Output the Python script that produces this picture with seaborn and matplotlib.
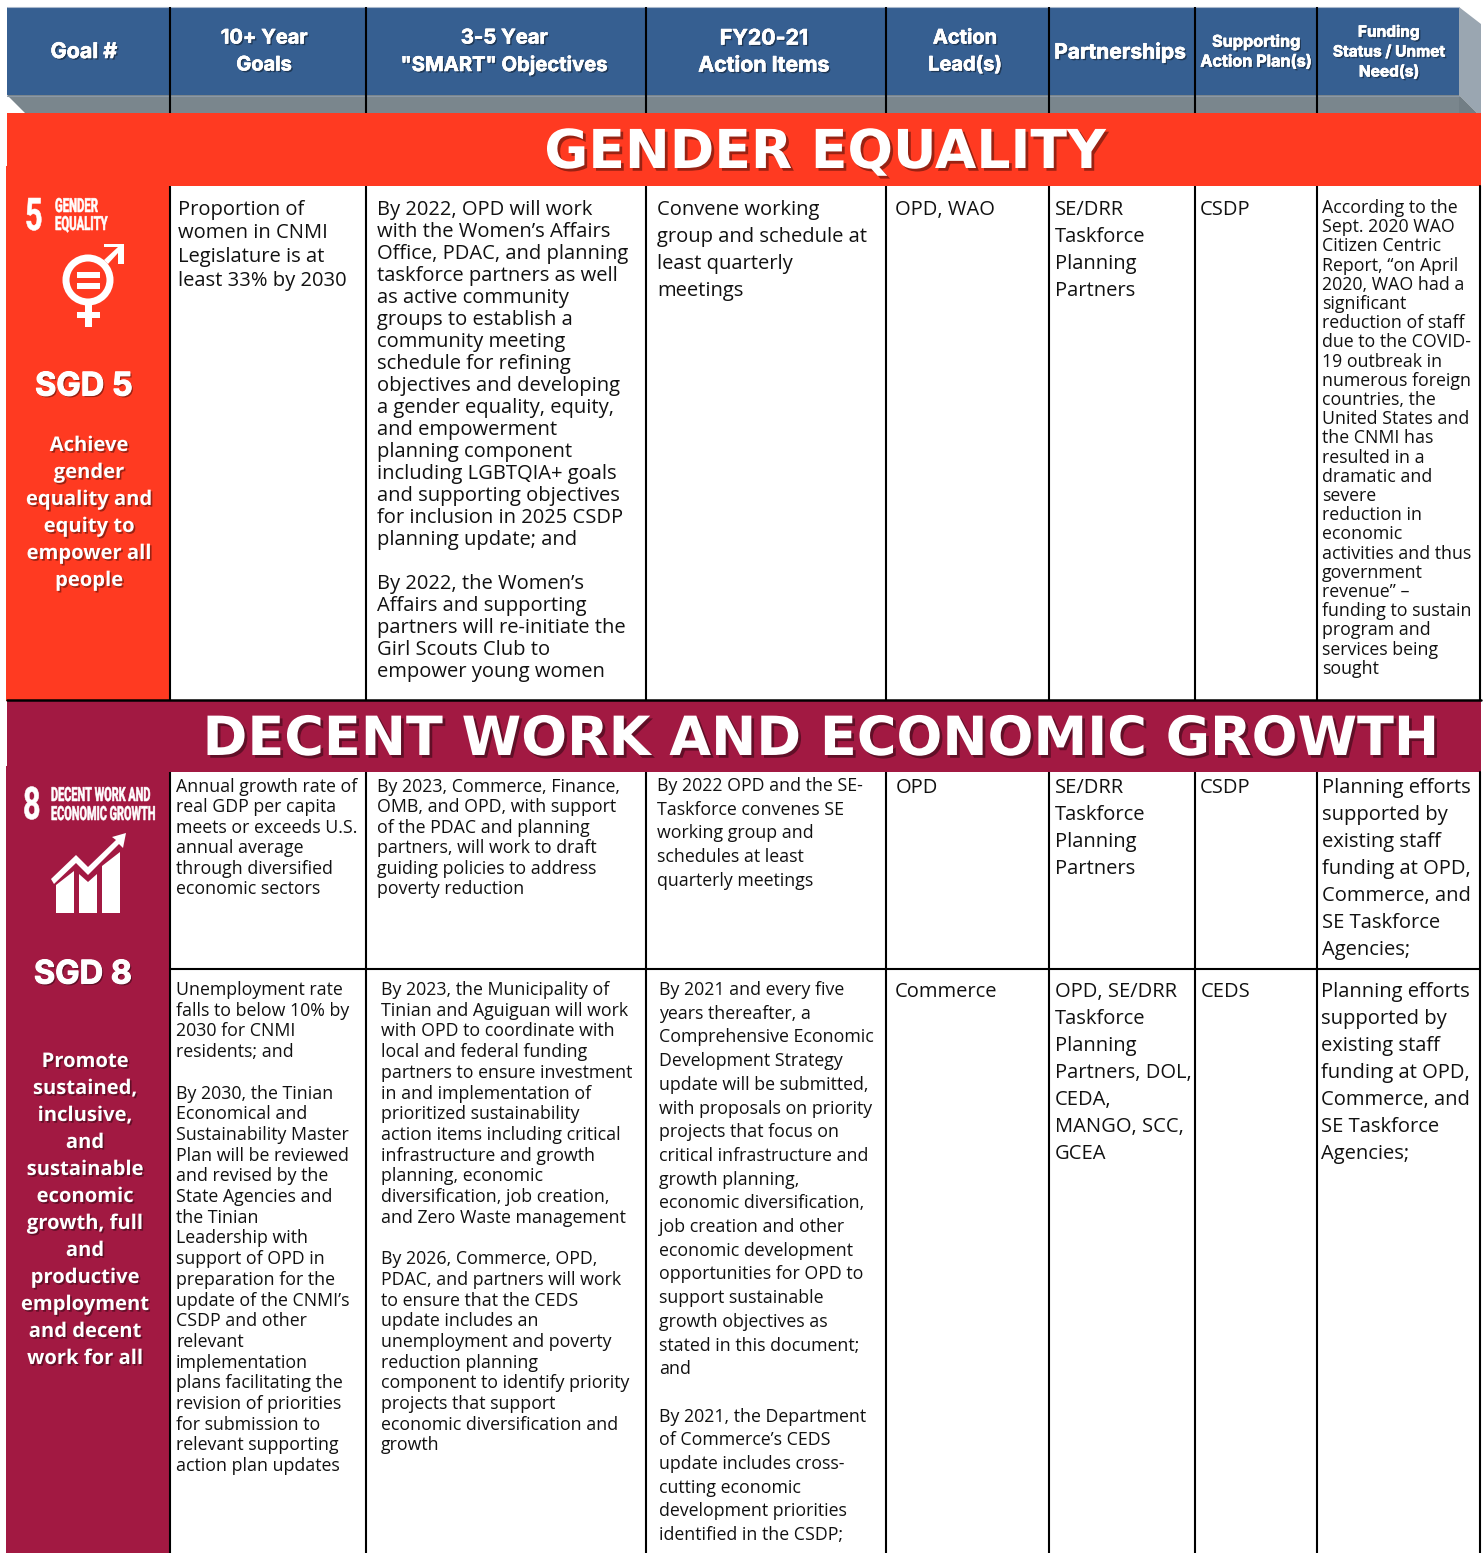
import matplotlib
matplotlib.use("Agg")
import matplotlib.pyplot as plt
import matplotlib.patheffects as pe
from matplotlib.patches import Rectangle, Polygon, Circle
from matplotlib.transforms import Affine2D
import seaborn as sns

sns.set_theme(style="white")
plt.rcParams["font.family"] = ["Open Sans", "DejaVu Sans"]

W, H = 1484, 1553
BLUE = "#365F91"
GREY = "#7A868D"
SIDE = "#9AA6B1"
RED = "#FF3A21"
MAROON = "#A21942"

# Table content
col_edges = [170, 366, 646, 886, 1049, 1195, 1317, 1479]
headers = [
    ["Goal #"], ["10+ Year", "Goals"], ["3-5 Year", '"SMART" Objectives'],
    ["FY20-21", "Action Items"], ["Action", "Lead(s)"], ["Partnerships"],
    ["Supporting", "Action Plan(s)"], ["Funding", "Status / Unmet", "Need(s)"],
]
header_x = [84, 264, 504, 764, 965, 1120, 1256, 1389]
header_px = [21.5, 20, 20.2, 21.3, 20, 21, 16.2, 15.5]
header_pitch = [27, 27, 27, 27, 27, 27, 20, 20]

gender_goal = ["Proportion of", "women in CNMI", "Legislature is at", "least 33% by 2030"]
gender_obj = [
    "By 2022, OPD will work", "with the Women’s Affairs", "Office, PDAC, and planning",
    "taskforce partners as well", "as active community", "groups to establish a",
    "community meeting", "schedule for refining", "objectives and developing",
    "a gender equality, equity,", "and empowerment", "planning component",
    "including LGBTQIA+ goals", "and supporting objectives", "for inclusion in 2025 CSDP",
    "planning update; and", "", "By 2022, the Women’s", "Affairs and supporting",
    "partners will re-initiate the", "Girl Scouts Club to", "empower young women",
]
gender_items = ["Convene working", "group and schedule at", "least quarterly", "meetings"]
gender_lead = ["OPD, WAO"]
gender_partners = ["SE/DRR", "Taskforce", "Planning", "Partners"]
gender_plan = ["CSDP"]
gender_funding = [
    "According to the", "Sept. 2020 WAO", "Citizen Centric", "Report, “on April",
    "2020, WAO had a", "significant", "reduction of staff", "due to the COVID-",
    "19 outbreak in", "numerous foreign", "countries, the", "United States and",
    "the CNMI has", "resulted in a", "dramatic and", "severe", "reduction in",
    "economic", "activities and thus", "government", "revenue” –",
    "funding to sustain", "program and", "services being", "sought",
]

work1_goal = ["Annual growth rate of", "real GDP per capita", "meets or exceeds U.S.",
              "annual average", "through diversified", "economic sectors"]
work1_obj = ["By 2023, Commerce, Finance,", "OMB, and OPD, with support", "of the PDAC and planning",
             "partners, will work to draft", "guiding policies to address", "poverty reduction"]
work1_items = ["By 2022 OPD and the SE-", "Taskforce convenes SE", "working group and",
               "schedules at least", "quarterly meetings"]
work1_lead = ["OPD"]
work1_partners = ["SE/DRR", "Taskforce", "Planning", "Partners"]
work1_plan = ["CSDP"]
funding_text = ["Planning efforts", "supported by", "existing staff", "funding at OPD,",
                "Commerce, and", "SE Taskforce", "Agencies;"]

work2_goal = [
    "Unemployment rate", "falls to below 10% by", "2030 for CNMI", "residents; and", "",
    "By 2030, the Tinian", "Economical and", "Sustainability Master", "Plan will be reviewed",
    "and revised by the", "State Agencies and", "the Tinian", "Leadership with",
    "support of OPD in", "preparation for the", "update of the CNMI’s", "CSDP and other",
    "relevant", "implementation", "plans facilitating the", "revision of priorities",
    "for submission to", "relevant supporting", "action plan updates",
]
work2_obj = [
    "By 2023, the Municipality of", "Tinian and Aguiguan will work", "with OPD to coordinate with",
    "local and federal funding", "partners to ensure investment", "in and implementation of",
    "prioritized sustainability", "action items including critical", "infrastructure and growth",
    "planning, economic", "diversification, job creation,", "and Zero Waste management", "",
    "By 2026, Commerce, OPD,", "PDAC, and partners will work", "to ensure that the CEDS",
    "update includes an", "unemployment and poverty", "reduction planning",
    "component to identify priority", "projects that support", "economic diversification and", "growth",
]
work2_items = [
    "By 2021 and every five", "years thereafter, a", "Comprehensive Economic",
    "Development Strategy", "update will be submitted,", "with proposals on priority",
    "projects that focus on", "critical infrastructure and", "growth planning,",
    "economic diversification,", "job creation and other", "economic development",
    "opportunities for OPD to", "support sustainable", "growth objectives as",
    "stated in this document;", "and", "", "By 2021, the Department", "of Commerce’s CEDS",
    "update includes cross-", "cutting economic", "development priorities", "identified in the CSDP;",
]
work2_lead = ["Commerce"]
work2_partners = ["OPD, SE/DRR", "Taskforce", "Planning", "Partners, DOL,", "CEDA,", "MANGO, SCC,", "GCEA"]
work2_plan = ["CEDS"]

sdg5_text = ["Achieve", "gender", "equality and", "equity to", "empower all", "people"]
sdg8_text = ["Promote", "sustained,", "inclusive,", "and", "sustainable", "economic", "growth, full",
             "and", "productive", "employment", "and decent", "work for all"]

fig = plt.figure(figsize=(W / 100, H / 100), dpi=100)
ax = fig.add_axes([0, 0, 1, 1])
ax.set_xlim(0, W)
ax.set_ylim(H, 0)
ax.axis("off")


# no condensed font installed, so stretch the letters upward from the baseline
class Tall(pe.AbstractPathEffect):
    def __init__(self, sy, y0):
        super().__init__()
        self.sy = sy
        self.y0 = y0

    def draw_path(self, renderer, gc, tpath, affine, rgbFace=None):
        stretch = Affine2D().translate(0, -self.y0).scale(1, self.sy).translate(0, self.y0)
        gc0 = renderer.new_gc()
        gc0.copy_properties(gc)
        gc0.set_linewidth(0.4)
        gc0.set_foreground("white")
        renderer.draw_path(gc0, tpath, affine + stretch, rgbFace)
        gc0.restore()


def px(size):
    return size * 0.72


def shadow(off=1.2, stroke=0.0):
    effects = [pe.withSimplePatchShadow(offset=(off, -off), shadow_rgbFace="#000000", alpha=0.4)]
    if stroke:
        effects.append(pe.Stroke(linewidth=stroke, foreground="white"))
        effects.append(pe.Normal())
    return effects


def block(lines, x, y, size, pitch):
    # y is the vertical middle of the first line
    for i, line in enumerate(lines):
        ax.text(x, y + i * pitch + size * 0.27 + 1.3, line, fontsize=px(size), color="#111111",
                ha="left", va="baseline")


def white_lines(lines, x, y, size, pitch, family="Open Sans", stroke=0.0):
    for i, line in enumerate(lines):
        ax.text(x, y + i * pitch + 2, line, fontsize=px(size), color="white", weight="bold",
                family=family, ha="center", va="center", path_effects=shadow(stroke=stroke))


def narrow_label(text, x, y, size, sy):
    ax.text(x, y, text, fontsize=px(size), color="white", weight="bold", family="Roboto",
            ha="left", va="baseline", path_effects=[Tall(sy, H - y)])


# Header strip
ax.add_patch(Rectangle((7, 95), 1452, 18, color=GREY, lw=0))
ax.add_patch(Polygon([(7, 95), (25, 113), (7, 113)], color="white", lw=0))
ax.add_patch(Polygon([(1459, 7), (1481, 24), (1481, 113), (1477, 113), (1459, 95)], color=SIDE, lw=0))
ax.add_patch(Polygon([(1459, 95), (1477, 113), (1459, 113)], color="#727E85", lw=0))
ax.add_patch(Rectangle((7, 7), 1452, 88, color=BLUE, lw=0))
ax.plot([7, 1459], [6.5, 6.5], color="#A9B8CC", lw=0.8)
ax.plot([7, 1459], [95.5, 95.5], color="#8B98A6", lw=0.8)

# Colour bands and goal columns
ax.add_patch(Rectangle((7, 113), 1474, 73, color=RED, lw=0))
ax.add_patch(Rectangle((6, 166), 164, 535, color=RED, lw=0))
ax.add_patch(Rectangle((7, 701), 1474, 71, color=MAROON, lw=0))
ax.add_patch(Rectangle((6, 766), 164, H - 766, color=MAROON, lw=0))

# Grid lines
for x in col_edges[:-1]:
    ax.plot([x, x], [7, 113], color="black", lw=1.5, solid_capstyle="butt")
    ax.plot([x, x], [186, 700], color="black", lw=1.5, solid_capstyle="butt")
    ax.plot([x, x], [772, H], color="black", lw=1.5, solid_capstyle="butt")
ax.plot([1479.5, 1479.5], [186, 700], color="black", lw=1.5)
ax.plot([1479.5, 1479.5], [772, H], color="black", lw=1.5)
ax.plot([7, 1481], [700, 700], color="black", lw=1.8)
ax.plot([170, 1479], [969, 969], color="black", lw=1.5)

# Header text
for names, x, size, pitch in zip(headers, header_x, header_px, header_pitch):
    y0 = 50 - (len(names) - 1) * pitch / 2
    white_lines(names, x, y0, size, pitch, family="Inter", stroke=0.4)

# Band titles
title_fx = shadow(off=2.0)
ax.text(825, 168, "GENDER EQUALITY", fontsize=px(53.6), color="white", weight="bold", family="DejaVu Sans",
        ha="center", va="baseline", path_effects=title_fx)
ax.text(821.5, 755, "DECENT WORK AND ECONOMIC GROWTH", fontsize=px(54), color="white", weight="bold",
        family="DejaVu Sans", ha="center", va="baseline", path_effects=title_fx)

# SDG 5 badge
narrow_label("5", 25, 230, 30.6, 1.47)
narrow_label("GENDER", 55, 212, 11.3, 1.72)
narrow_label("EQUALITY", 55, 230, 11.3, 1.72)
ax.add_patch(Circle((88, 280), 22, fill=False, ec="white", lw=px(7)))
ax.add_patch(Rectangle((77, 272), 23, 6, color="white", lw=0))
ax.add_patch(Rectangle((77, 283), 23, 6, color="white", lw=0))
ax.add_patch(Rectangle((85, 303), 7, 24, color="white", lw=0))
ax.add_patch(Rectangle((77, 312), 23, 6, color="white", lw=0))
ax.add_patch(Polygon([(104, 260), (118, 247), (104, 247), (104, 244), (124, 244), (124, 264),
                      (118, 264), (118, 253), (108, 264)], color="white", lw=0))
white_lines(["SGD 5"], 84, 385, 32.5, 0, family="Inter", stroke=0.8)
white_lines(sdg5_text, 89, 444, 20.2, 27)

# SDG 8 badge
narrow_label("8", 23, 819, 30.6, 1.47)
narrow_label("DECENT WORK AND", 51, 801, 10.9, 1.79)
narrow_label("ECONOMIC GROWTH", 51, 820, 10.9, 1.79)
ax.add_patch(Polygon([(56, 913), (56, 885), (74, 871), (74, 913)], color="white", lw=0))
ax.add_patch(Polygon([(79, 913), (79, 874), (88, 882), (97, 874), (97, 913)], color="white", lw=0))
ax.add_patch(Polygon([(102, 913), (102, 866), (120, 852), (120, 913)], color="white", lw=0))
ax.add_patch(Polygon([(51, 879), (76, 855), (88, 867), (116, 840), (112, 837), (126, 833), (123, 848),
                      (119, 844), (88, 875), (76, 863), (54, 884)], color="white", lw=0))
white_lines(["SGD 8"], 83, 973, 32.5, 0, family="Inter", stroke=0.8)
white_lines(sdg8_text, 85, 1060, 20.2, 27)

# Body cells
block(gender_goal, 178, 208, 20.2, 23.7)
block(gender_obj, 377, 208, 20.2, 22)
block(gender_items, 657, 208, 20.2, 27)
block(gender_lead, 895, 208, 20.2, 27)
block(gender_partners, 1055, 208, 20.2, 27)
block(gender_plan, 1200, 208, 20.2, 27)
block(gender_funding, 1322, 207, 17.7, 19.2)

block(work1_goal, 176, 786, 17.7, 20.4)
block(work1_obj, 377, 786, 17.7, 20.4)
block(work1_items, 657, 785, 17.7, 23.7)
block(work1_lead, 896, 786, 20.2, 27)
block(work1_partners, 1055, 786, 20.2, 27)
block(work1_plan, 1200, 786, 20.2, 27)
block(funding_text, 1322, 786, 20.2, 27)

block(work2_goal, 176, 989, 17.7, 20.7)
block(work2_obj, 381, 989, 17.7, 20.7)
block(work2_items, 659, 989, 17.7, 23.7)
block(work2_lead, 895, 990, 20.2, 27)
block(work2_partners, 1055, 990, 20.2, 27)
block(work2_plan, 1201, 990, 20.2, 27)
block(funding_text, 1321, 990, 20.2, 27)

fig.savefig("out.png", dpi=100)
